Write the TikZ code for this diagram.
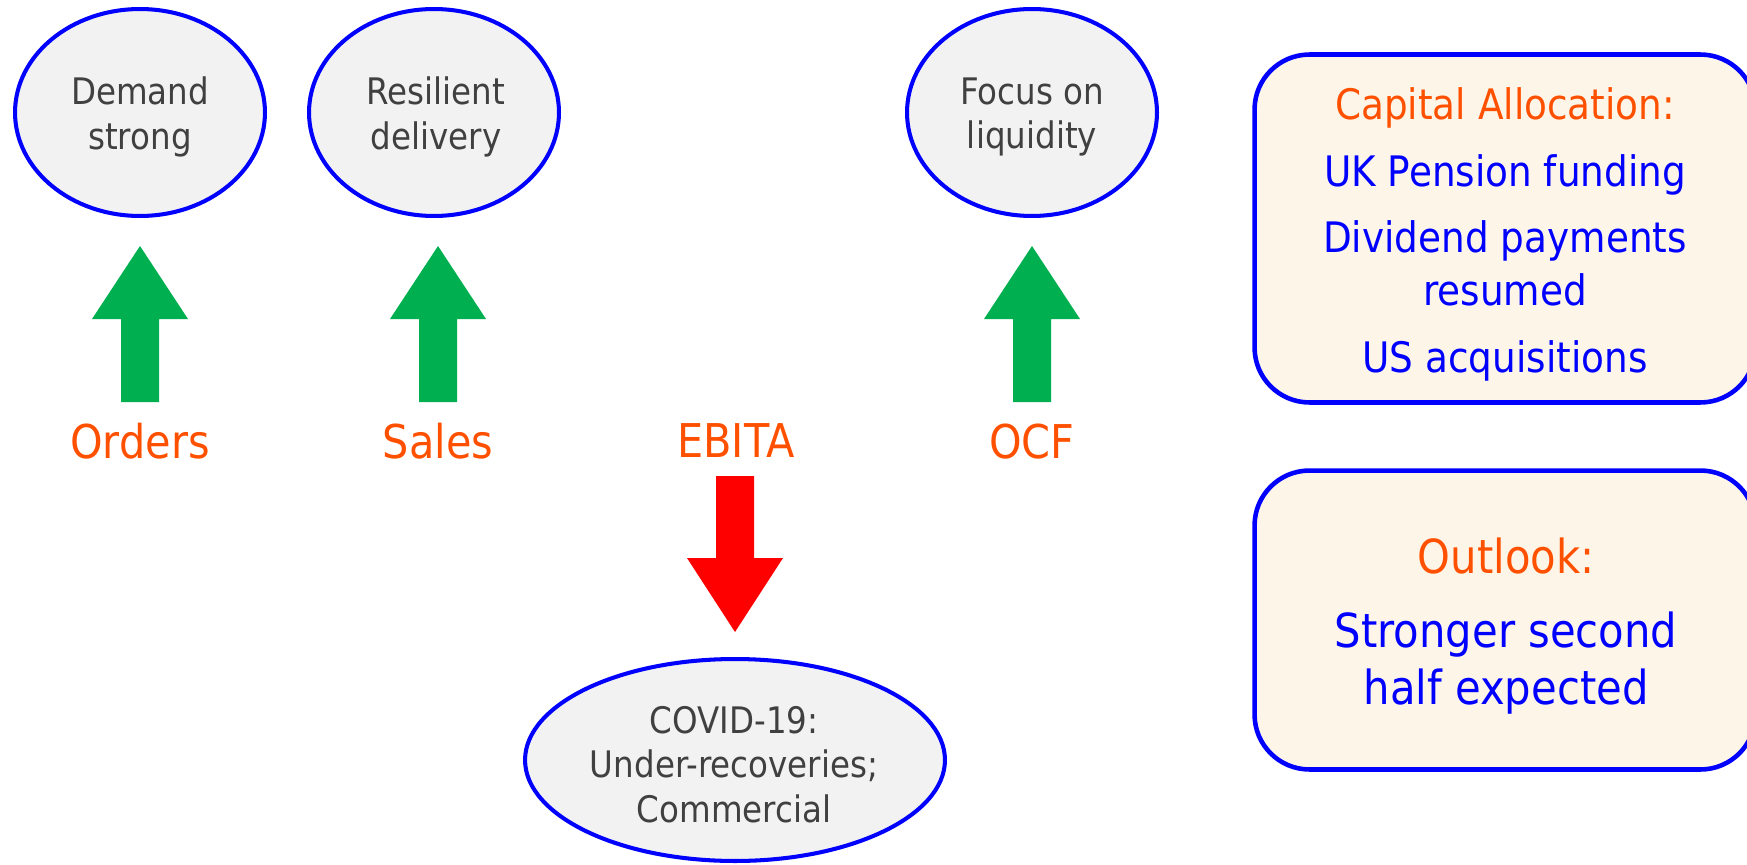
\documentclass[tikz,border=0pt]{standalone}
\usepackage{fontspec}
\setmainfont{DejaVu Sans}[FakeStretch=0.89]
\usepackage{tikz}
\usetikzlibrary{shapes.geometric,calc}
\definecolor{ringblue}{RGB}{0,0,255}
\definecolor{kpiorange}{RGB}{255,80,0}
\definecolor{upgreen}{RGB}{0,176,80}
\definecolor{downred}{RGB}{255,0,0}
\definecolor{bubblegray}{RGB}{242,242,242}
\definecolor{inkgray}{RGB}{64,64,64}
\definecolor{notecream}{RGB}{253,246,232}
\tikzset{
  bubble/.style={ellipse, draw=ringblue, line width=2.3pt, fill=bubblegray, inner sep=0pt, minimum width=5cm, minimum height=4.14cm},
  bubbletext/.style={text=inkgray, anchor=base, inner sep=0pt, font=\fontsize{20.8}{25.6}\selectfont},
  kpi/.style={text=kpiorange, anchor=base, inner sep=0pt, font=\fontsize{26.5}{32}\selectfont},
  notebox/.style={draw=ringblue, line width=2.6pt, fill=notecream, rounded corners=1.1cm, minimum width=10.02cm},
  notehead/.style={text=kpiorange, anchor=base, inner sep=0pt},
  noteline/.style={text=ringblue, anchor=base, inner sep=0pt},
  uparr/.style={fill=upgreen},
  downarr/.style={fill=downred},
}
\begin{document}
\begin{tikzpicture}[x=0.02cm, y=-0.02cm]
  \useasboundingbox (0,0) rectangle (1747,865);
  % bubbles
  \node[bubble] (demand) at (140,112.5) {};
  \node[bubble] (delivery) at (434,112.5) {};
  \node[bubble] (liquidity) at (1032,112.5) {};
  \node[bubble, minimum width=8.4cm, minimum height=4.04cm] (covid) at (735,760) {};
  \node[bubbletext] (demand1) at (140,105) {Demand};
  \node[bubbletext] (demand2) at (140,150) {strong};
  \node[bubbletext] (delivery1) at (436,105) {Resilient};
  \node[bubbletext] (delivery2) at (436,150) {delivery};
  \node[bubbletext] (liquidity1) at (1032,105) {Focus on};
  \node[bubbletext] (liquidity2) at (1032,149) {liquidity};
  \node[bubbletext] (covid1) at (734,733) {COVID-19:};
  \node[bubbletext] (covid2) at (734,777) {Under-recoveries;};
  \node[bubbletext] (covid3) at (734,822) {Commercial};
  % kpi labels
  \node[kpi] (orders) at (140,458) {Orders};
  \node[kpi] (sales) at (438,458) {Sales};
  \node[kpi] (ebita) at (736,457) {EBITA};
  \node[kpi] (ocf) at (1032,458) {OCF};
  % block arrows
  \foreach \n in {orders,sales,ocf}
    \fill[uparr] ($(\n.base)+(0,-56)$) ++(-19,0) -- ++(0,-83) -- ++(-29,0) -- ++(48,-73) -- ++(48,73) -- ++(-29,0) -- ++(0,83) -- cycle;
  \fill[downarr] ($(ebita.base)+(-1,19)$) ++(-19,0) -- ++(0,82) -- ++(-29,0) -- ++(48,74) -- ++(48,-74) -- ++(-29,0) -- ++(0,-82) -- cycle;
  % right hand boxes
  \node[notebox, minimum height=6.96cm] (capbox) at (1505,228.5) {};
  \node[notebox, minimum height=5.98cm] (outbox) at (1505,620) {};
  \begin{scope}[font=\fontsize{23.9}{30}\selectfont]
    \node[notehead] (caphead) at (1505,119) {Capital Allocation:};
    \node[noteline] (cap1) at (1505,186) {UK Pension funding};
    \node[noteline] (cap2) at (1505,252) {Dividend payments};
    \node[noteline] (cap3) at (1505,305) {resumed};
    \node[noteline] (cap4) at (1505,372) {US acquisitions};
  \end{scope}
  \begin{scope}[font=\fontsize{26.7}{32}\selectfont]
    \node[notehead] (outhead) at (1506,573) {Outlook:};
    \node[noteline] (out1) at (1506,647) {Stronger second};
    \node[noteline] (out2) at (1506,704) {half expected};
  \end{scope}
\end{tikzpicture}
\end{document}
